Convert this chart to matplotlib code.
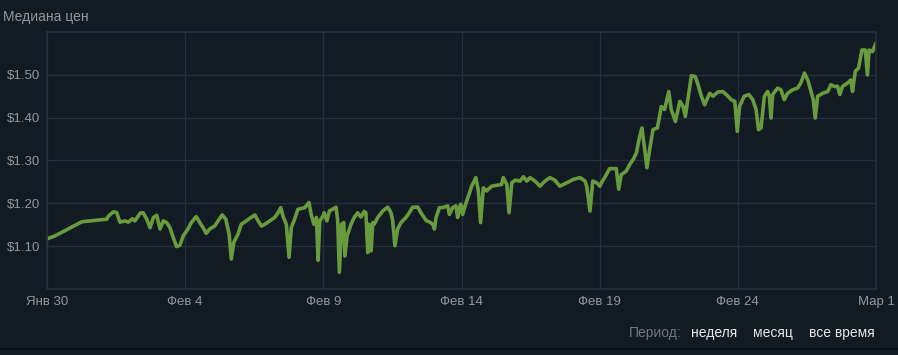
import numpy as np
import pandas as pd
import matplotlib
matplotlib.use("Agg")
import matplotlib.pyplot as plt
import matplotlib.dates as mdates

plt.rcParams['font.family'] = ['Liberation Sans', 'DejaVu Sans']

# days since Jan 30, median price in $
days = [0.00, 0.29, 1.26, 2.16, 2.22, 2.40, 2.52, 2.64, 2.82, 2.94, 3.09, 3.18, 3.37, 3.48,
        3.61, 3.73, 3.85, 3.97, 4.09, 4.21, 4.33, 4.45, 4.57, 4.69, 4.81, 4.93,
        5.10, 5.22, 5.40, 5.53, 5.65, 5.76, 5.89, 6.07, 6.19, 6.34, 6.47, 6.59, 6.67, 6.76,
        6.91, 7.03, 7.21, 7.39, 7.52, 7.64, 7.76, 7.88, 8.06, 8.24, 8.36, 8.46, 8.54, 8.66,
        8.76, 8.84, 8.96, 9.08, 9.20, 9.33, 9.48, 9.56, 9.66, 9.75, 9.81, 9.87, 9.99,
        10.03, 10.13, 10.22, 10.46, 10.52, 10.58, 10.66, 10.74, 10.78, 10.86, 11.00, 11.12,
        11.24, 11.36, 11.48, 11.54, 11.61, 11.66, 11.73, 11.79, 11.84, 11.97, 12.15, 12.33,
        12.45, 12.51, 12.59, 12.69, 12.81, 12.99, 13.11, 13.23, 13.42, 13.53, 13.72, 13.83,
        13.96, 14.02, 14.08, 14.20, 14.32, 14.50, 14.56, 14.68, 14.80, 14.86, 14.92,
        14.97, 15.04, 15.13, 15.25, 15.37, 15.52, 15.61, 15.69, 15.79, 15.91, 16.09, 16.27,
        16.45, 16.51, 16.64, 16.72, 16.82, 16.94, 17.12, 17.24, 17.36, 17.48, 17.66, 17.84,
        18.02, 18.20, 18.38, 18.56, 18.81, 19.05, 19.29, 19.47, 19.53, 19.65, 19.75, 19.89,
        20.01, 20.06, 20.18, 20.36, 20.60, 20.69, 20.78, 20.96, 21.09, 21.21, 21.33, 21.45,
        21.53, 21.63, 21.71, 21.81, 21.93, 22.09, 22.23, 22.35, 22.50, 22.59, 22.74, 22.90,
        23.02, 23.10, 23.22, 23.32, 23.46, 23.56, 23.68, 23.80, 23.98, 24.10, 24.28, 24.46,
        24.58, 24.76, 24.89, 24.98, 25.06, 25.23, 25.40, 25.54, 25.66, 25.75, 25.84, 25.96,
        26.08, 26.14, 26.20, 26.26, 26.44, 26.56, 26.68, 26.80, 26.98, 27.16, 27.28, 27.41,
        27.53, 27.65, 27.73, 27.80, 27.89, 28.07, 28.25, 28.37, 28.49, 28.61, 28.69, 28.79,
        28.97, 29.09, 29.15, 29.25, 29.37, 29.49, 29.61, 29.69, 29.75, 29.87, 30.00]
prices = [1.117, 1.124, 1.157, 1.163, 1.170, 1.180, 1.179, 1.156, 1.159, 1.156, 1.164, 1.159, 1.177, 1.178,
          1.163, 1.143, 1.167, 1.172, 1.140, 1.159, 1.155, 1.143, 1.120, 1.099, 1.102, 1.124,
          1.140, 1.155, 1.169, 1.155, 1.143, 1.130, 1.140, 1.147, 1.159, 1.173, 1.163, 1.128, 1.070, 1.109,
          1.128, 1.151, 1.159, 1.167, 1.173, 1.159, 1.147, 1.151, 1.159, 1.167, 1.178, 1.190, 1.170, 1.151,
          1.074, 1.143, 1.163, 1.186, 1.188, 1.190, 1.202, 1.174, 1.151, 1.167, 1.067, 1.159, 1.170,
          1.178, 1.159, 1.182, 1.191, 1.159, 1.039, 1.151, 1.155, 1.077, 1.124, 1.151, 1.167,
          1.178, 1.168, 1.181, 1.178, 1.085, 1.151, 1.089, 1.155, 1.151, 1.167, 1.182, 1.191,
          1.178, 1.159, 1.101, 1.140, 1.155, 1.167, 1.178, 1.191, 1.191, 1.178, 1.160, 1.157,
          1.151, 1.140, 1.167, 1.190, 1.190, 1.194, 1.174, 1.190, 1.194, 1.167, 1.186,
          1.198, 1.174, 1.194, 1.217, 1.240, 1.260, 1.229, 1.155, 1.236, 1.229, 1.240, 1.242,
          1.244, 1.260, 1.244, 1.178, 1.248, 1.254, 1.252, 1.262, 1.252, 1.260, 1.252, 1.240,
          1.252, 1.260, 1.254, 1.240, 1.248, 1.256, 1.260, 1.252, 1.240, 1.182, 1.252, 1.248,
          1.240, 1.248, 1.260, 1.281, 1.281, 1.233, 1.267, 1.275, 1.291, 1.302, 1.318, 1.357,
          1.376, 1.326, 1.283, 1.326, 1.372, 1.376, 1.426, 1.419, 1.461, 1.419, 1.391, 1.438,
          1.426, 1.403, 1.454, 1.498, 1.496, 1.477, 1.450, 1.430, 1.457, 1.450, 1.460, 1.461,
          1.454, 1.442, 1.438, 1.368, 1.426, 1.450, 1.454, 1.442, 1.419, 1.372, 1.376, 1.450,
          1.461, 1.450, 1.399, 1.454, 1.469, 1.465, 1.442, 1.457, 1.465, 1.469, 1.481, 1.504,
          1.488, 1.461, 1.442, 1.399, 1.450, 1.457, 1.461, 1.477, 1.473, 1.473, 1.454, 1.473,
          1.481, 1.488, 1.461, 1.508, 1.516, 1.558, 1.558, 1.500, 1.558, 1.554, 1.574]

tick_days = [0, 5, 10, 15, 20, 25, 30]
tick_labels = ["Янв 30", "Фев 4", "Фев 9", "Фев 14", "Фев 19", "Фев 24", "Мар 1"]
y_ticks = [1.10, 1.20, 1.30, 1.40, 1.50]
period_options = ["неделя", "месяц", "все время"]

bg = "#121a24"
grid_c = "#25303c"
text_c = "#8f98a0"
line_c = "#6a9a3e"

start = pd.Timestamp("2023-01-30")
x = start + pd.to_timedelta(days, unit="D")
xt = start + pd.to_timedelta(tick_days, unit="D")

fig = plt.figure(figsize=(8.98, 3.55), dpi=100, facecolor=bg)
ax = fig.add_axes([47/898, 1-289/355, 829/898, 257/355])
ax.set_facecolor(bg)

ax.plot(x, prices, color=line_c, lw=2.6, solid_joinstyle="round", solid_capstyle="round")

ax.set_xlim(xt[0], xt[-1])
ax.set_ylim(1.0, 1.6)
ax.set_xticks(xt)
ax.set_xticklabels(tick_labels)
ax.set_yticks(y_ticks)
ax.set_yticklabels(["$%.2f" % v for v in y_ticks])
ax.grid(True, color=grid_c, lw=1)
ax.set_axisbelow(True)
ax.tick_params(colors=text_c, labelsize=9.5, length=0, pad=5)
for lab in ax.get_xticklabels():
    lab.set_color(text_c)
for s in ax.spines.values():
    s.set_color(grid_c)
    s.set_linewidth(1.2)

fig.text(3/898, 1-17/355, "Медиана цен", color=text_c, fontsize=10, va="center", ha="left")

fig.text(681/898, 1-333/355, "Период:", color="#6f7882", fontsize=10, va="center", ha="right")
px = [691, 753, 809]
for p, lbl in zip(px, period_options):
    fig.text(p/898, 1-333/355, lbl, color="#e8e8e8", fontsize=10, va="center", ha="left")

fig.add_artist(plt.Line2D([0, 1], [1-348.5/355]*2, color="#090d12", lw=1.2))

fig.savefig("out.png", dpi=100, facecolor=bg)
